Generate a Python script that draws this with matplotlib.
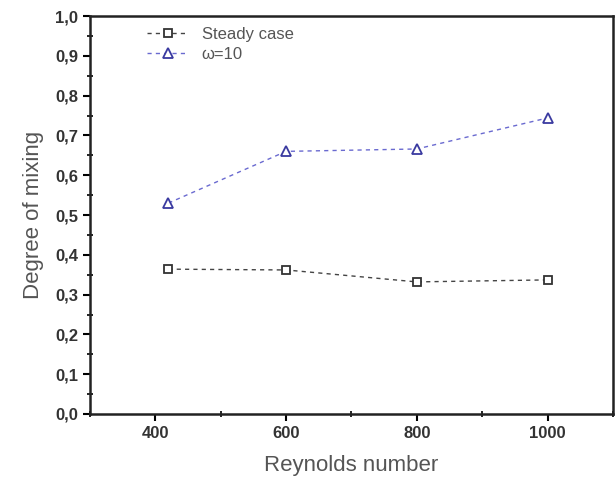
import matplotlib.pyplot as plt
from matplotlib.ticker import MultipleLocator, FuncFormatter

plt.rcParams['font.family'] = ['Liberation Sans', 'DejaVu Sans']

reynolds = [420, 600, 800, 1000]
steady = [0.364, 0.362, 0.332, 0.337]
omega10 = [0.530, 0.660, 0.666, 0.744]

fig = plt.figure(figsize=(6.16, 4.8), dpi=100)
ax = fig.add_axes([0.146, 0.1375, 0.849, 0.829])

ax.plot(reynolds, steady, linestyle=(0, (3, 3)), color='#444444', lw=1,
        marker='s', markersize=6, markerfacecolor='white', markeredgecolor='#333333',
        markeredgewidth=1.3, label='Steady case')
ax.plot(reynolds, omega10, linestyle=(0, (3, 3)), color='#6a6ad0', lw=1,
        marker='^', markersize=7, markerfacecolor='white', markeredgecolor='#3a3aa0',
        markeredgewidth=1.3, label='\u03c9=10')

ax.set_xlim(300, 1100)
ax.set_ylim(0, 1.0)
ax.xaxis.set_major_locator(MultipleLocator(200))
ax.xaxis.set_minor_locator(MultipleLocator(100))
ax.yaxis.set_major_locator(MultipleLocator(0.1))
ax.yaxis.set_minor_locator(MultipleLocator(0.05))
ax.yaxis.set_major_formatter(FuncFormatter(lambda v, p: f'{v:.1f}'.replace('.', ',')))

ax.tick_params(which='major', direction='out', length=5, width=1.5,
               labelsize=12, labelcolor='#333333')
ax.tick_params(which='minor', direction='inout', length=5, width=1.2)
for lbl in ax.get_xticklabels() + ax.get_yticklabels():
    lbl.set_fontweight('bold')
for s in ax.spines.values():
    s.set_linewidth(1.8)
    s.set_color('#222222')

ax.set_xlabel('Reynolds number', fontsize=16, color='#555555', labelpad=10)
ax.set_ylabel('Degree of mixing', fontsize=16, color='#555555', labelpad=8)

leg = ax.legend(loc='upper left', bbox_to_anchor=(0.08, 1.01), frameon=False,
                fontsize=12, handlelength=2.5, labelspacing=0.3)
for t in leg.get_texts():
    t.set_color('#555555')

fig.savefig('out.png', dpi=100)
